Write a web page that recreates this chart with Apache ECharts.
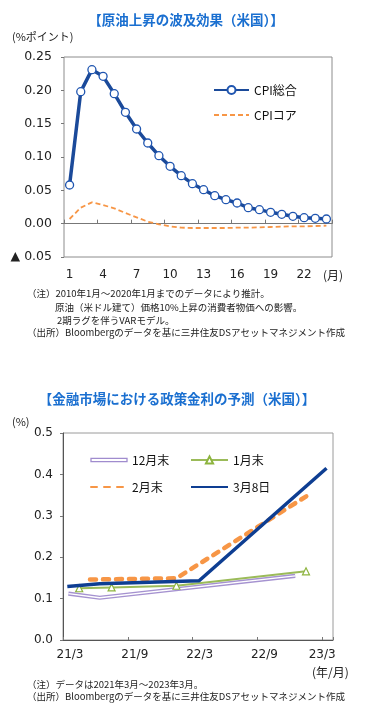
<!DOCTYPE html>
<html><head><meta charset="utf-8">
<script src="https://cdn.jsdelivr.net/npm/echarts@6/dist/echarts.min.js"></script>
<style>html,body{margin:0;padding:0;background:#fff}#c{width:365px;height:709px}</style>
</head><body><div id="c"></div>
<script>
// ---- Chart 1 data ----
const months = ['1','2','3','4','5','6','7','8','9','10','11','12','13','14','15','16','17','18','19','20','21','22','23','24'];
const cpiTotal = [0.058,0.198,0.231,0.221,0.195,0.167,0.142,0.121,0.102,0.086,0.072,0.060,0.051,0.042,0.036,0.031,0.024,0.021,0.017,0.014,0.011,0.009,0.008,0.007];
const cpiCore = [0.007,0.024,0.032,0.028,0.023,0.016,0.0095,0.003,-0.001,-0.004,-0.006,-0.0065,-0.0065,-0.0065,-0.0065,-0.006,-0.006,-0.0055,-0.005,-0.0045,-0.004,-0.004,-0.0035,-0.003];
// ---- Chart 2 data (x = months since 2021/3) ----
const rateDec = [[0.5,0.112],[3.4,0.102],[21.5,0.155]];
const rateJan = [[1.5,0.125],[4.5,0.127],[10.5,0.131],[22.5,0.166]];
const rateFeb = [[2.5,0.146],[10.5,0.149],[23.0,0.355]];
const rateMar8 = [[0.4,0.129],[3.4,0.136],[12.6,0.143],[24.4,0.415]];
const c2XLabels = ['21/3','21/9','22/3','22/9','23/3'];
const c2XTickMonths = [0,6,12,18,24];

const JP = '"Noto Sans CJK JP", sans-serif';
const NUM = '"DejaVu Sans", sans-serif';
const TITLE_BLUE = '#1a6fd0';
const NO_SYMBOL = {opacity:0, color:'transparent', borderColor:'transparent', borderWidth:0};

const chart = echarts.init(document.getElementById('c'), null, {renderer:'canvas'});

function txt(x, y, text, opt) {
  opt = opt || {};
  return {type:'text', x:x, y:y, silent:true, style:{
    text:text, fill:opt.fill||'#222', font:(opt.weight||'normal')+' '+(opt.size||10)+'px '+(opt.family||JP),
    textAlign:opt.align||'left', textVerticalAlign:'middle'}};
}

const option = {
  backgroundColor:'#fff',
  animation:false,
  grid:[
    {left:64, top:57, width:268, height:200, show:true, borderColor:'#8c8c8c', borderWidth:1, backgroundColor:'transparent'},
    {left:63, top:433, width:270, height:207, show:true, borderColor:'#9a9a9a', borderWidth:1, backgroundColor:'transparent'}
  ],
  xAxis:[
    {gridIndex:0, type:'category', data:months, position:'bottom', boundaryGap:true,
     axisLine:{show:false, onZero:false}, axisTick:{show:false},
     axisLabel:{interval:2, margin:12, fontSize:12, fontFamily:NUM, color:'#222'}, splitLine:{show:false}},
    {gridIndex:0, type:'category', data:months, position:'bottom', boundaryGap:true,
     axisLine:{show:true, onZero:true, lineStyle:{color:'#777', width:1}},
     axisTick:{show:true, inside:true, interval:2, length:4, lineStyle:{color:'#777'}},
     axisLabel:{show:false}, splitLine:{show:false}},
    {gridIndex:1, type:'value', min:0, max:25, interval:6, position:'bottom',
     axisLine:{show:true, onZero:false, lineStyle:{color:'#555'}},
     axisTick:{show:true, inside:true, length:3, lineStyle:{color:'#777'}},
     splitLine:{show:false},
     axisLabel:{margin:9, fontSize:12, fontFamily:NUM, color:'#222',
       formatter:function(v){const i=c2XTickMonths.indexOf(v); if(i<0) return ''; return i<4 ? '{s|'+c2XLabels[i]+'}' : '{e|'+c2XLabels[i]+'}';},
       rich:{s:{padding:[0,0,0,14], fontSize:12, fontFamily:NUM, color:'#222'}, e:{fontSize:12, fontFamily:NUM, color:'#222'}}}}
  ],
  yAxis:[
    {gridIndex:0, type:'value', min:-0.05, max:0.25, interval:0.05,
     axisLine:{show:false}, axisTick:{show:true, length:3, lineStyle:{color:'#777'}},
     splitLine:{show:false},
     axisLabel:{margin:12, fontSize:12.5, fontFamily:NUM, color:'#222',
       formatter:function(v){return v < -1e-9 ? '▲ ' + Math.abs(v).toFixed(2) : Math.abs(v).toFixed(2);}}},
    {gridIndex:1, type:'value', min:0, max:0.5, interval:0.1,
     axisLine:{show:true, lineStyle:{color:'#555'}}, axisTick:{show:true, length:3, lineStyle:{color:'#777'}},
     splitLine:{show:false},
     axisLabel:{margin:10, fontSize:12, fontFamily:NUM, color:'#222', formatter:function(v){return v.toFixed(1);}}}
  ],
  legend:[
    {data:['CPI総合', {name:'CPIコア', itemStyle:NO_SYMBOL}], orient:'vertical', left:208, top:79, itemWidth:35, itemHeight:10, itemGap:13,
     selectedMode:false, textStyle:{fontSize:12, fontFamily:JP, color:'#111'}},
    {data:[{name:'12月末', icon:'path://M0,0H36V3.2H0Z', itemStyle:{color:'#fff', borderColor:'#a08cce', borderWidth:1.3}},
           {name:'2月末', itemStyle:NO_SYMBOL}],
     orient:'vertical', left:85, top:449, itemWidth:36, itemHeight:9, itemGap:15,
     selectedMode:false, symbolKeepAspect:true, textStyle:{fontSize:12, fontFamily:JP, color:'#111'}},
    {data:['1月末', {name:'3月8日', itemStyle:NO_SYMBOL}], orient:'vertical', left:185, top:449, itemWidth:37, itemHeight:9, itemGap:15,
     selectedMode:false, textStyle:{fontSize:12, fontFamily:JP, color:'#111'}}
  ],
  series:[
    {name:'CPIコア', type:'line', xAxisIndex:0, yAxisIndex:0, data:cpiCore, symbol:'none', z:3,
     lineStyle:{color:'#f79646', width:1.8, type:[5,3]}, itemStyle:{color:'#f79646'}},
    {name:'CPI総合', type:'line', xAxisIndex:0, yAxisIndex:0, data:cpiTotal, symbol:'circle', symbolSize:8, showAllSymbol:true, z:4,
     lineStyle:{color:'#1b4a9a', width:3.5}, itemStyle:{color:'#fff', borderColor:'#1f55b0', borderWidth:1.3}},
    {name:'12月末', type:'line', xAxisIndex:2, yAxisIndex:1, data:rateDec, symbol:'none', z:2,
     lineStyle:{color:'#a592d0', width:4.2}, itemStyle:{color:'#a592d0'}},
    {name:'12月末', type:'line', xAxisIndex:2, yAxisIndex:1, data:rateDec, symbol:'none', z:2,
     lineStyle:{color:'#ffffff', width:1.4}, itemStyle:{color:'#ffffff'}},
    {name:'1月末', type:'line', xAxisIndex:2, yAxisIndex:1, data:rateJan, symbol:'triangle', symbolSize:7, showSymbol:true, showAllSymbol:true, z:3,
     lineStyle:{color:'#9bbb59', width:2}, itemStyle:{color:'#fff', borderColor:'#8db43e', borderWidth:1.2}},
    {name:'2月末', type:'line', xAxisIndex:2, yAxisIndex:1, data:rateFeb, symbol:'none', z:4,
     lineStyle:{color:'#f79646', width:4.5, type:[6,7], cap:'round'}, itemStyle:{color:'#f79646'}},
    {name:'3月8日', type:'line', xAxisIndex:2, yAxisIndex:1, data:rateMar8, symbol:'none', z:5,
     lineStyle:{color:'#0e3e92', width:3.5}, itemStyle:{color:'#0e3e92'}}
  ],
  graphic:[
    txt(186, 20, '【原油上昇の波及効果（米国）】', {size:13.5, weight:'bold', fill:TITLE_BLUE, align:'center'}),
    txt(12, 37, '(%ポイント)', {size:11, fill:'#222'}),
    txt(323, 275, '(月)', {size:12, fill:'#222'}),
    txt(27, 293, '（注）2010年1月～2020年1月までのデータにより推計。', {size:9.5}),
    txt(55, 307, '原油（米ドル建て）価格10%上昇の消費者物価への影響。', {size:9.5}),
    txt(57, 320, '2期ラグを伴うVARモデル。', {size:9.5}),
    txt(27, 332, '（出所）Bloombergのデータを基に三井住友DSアセットマネジメント作成', {size:9.5}),
    txt(177, 399, '【金融市場における政策金利の予測（米国）】', {size:13.5, weight:'bold', fill:TITLE_BLUE, align:'center'}),
    txt(12, 422, '(%)', {size:11, fill:'#222'}),
    txt(312, 672, '(年/月)', {size:12, fill:'#222'}),
    txt(27, 684, '（注）データは2021年3月～2023年3月。', {size:9.5}),
    txt(27, 696, '（出所）Bloombergのデータを基に三井住友DSアセットマネジメント作成', {size:9.5})
  ]
};
chart.setOption(option);
</script></body></html>
